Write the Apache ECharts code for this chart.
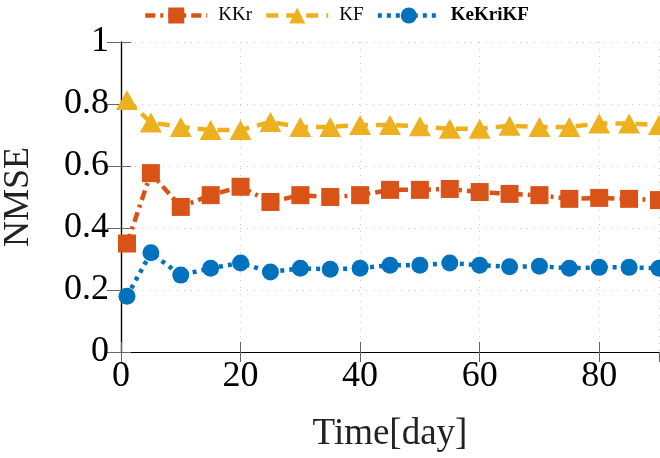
<!DOCTYPE html>
<html>
<head>
<meta charset="utf-8">
<script src="https://cdn.jsdelivr.net/npm/echarts@6/dist/echarts.min.js"></script>
<style>
	html, body { margin: 0; padding: 0; background: #fff; }
	#chart { width: 660px; height: 458px; }
</style>
</head>
<body>
<div id="chart"></div>
<script>
	/*NMSE over time*/

	var days = [1, 5, 10, 15, 20, 25, 30, 35, 40, 45, 50, 55, 60, 65, 70, 75, 80, 85, 90];
	var kkr = [0.35, 0.577, 0.468, 0.506, 0.533, 0.484, 0.506, 0.5, 0.506, 0.523, 0.523, 0.526, 0.516, 0.51, 0.506, 0.494, 0.497, 0.494, 0.49];
	var kf = [0.813, 0.74, 0.726, 0.716, 0.716, 0.742, 0.726, 0.726, 0.732, 0.732, 0.728, 0.72, 0.72, 0.73, 0.726, 0.726, 0.737, 0.737, 0.732];
	var kekrikf = [0.18, 0.32, 0.248, 0.27, 0.287, 0.258, 0.27, 0.267, 0.27, 0.28, 0.28, 0.287, 0.28, 0.275, 0.277, 0.27, 0.273, 0.273, 0.27];
	var xTicks = [0, 20, 40, 60, 80];
	var yTicks = [0, 0.2, 0.4, 0.6, 0.8, 1];

	function pairs(ys) {
		return days.map(function (d, i) { return [d, ys[i]]; });
	}

	var serif = "'Liberation Serif', 'DejaVu Serif', serif";

	var dashKKr = [10, 5, 3, 5];
	var dashKF = [12, 8];
	var dashKeKriKF = [4, 5];

	var chart = document.getElementById('chart');
	var lineChart = echarts.init(chart);

	var gridLine = { show: true, lineStyle: { color: '#c8c8c8', type: [1, 6], width: 1 } };
	var tickIn = { show: true, inside: true, length: 10, lineStyle: { color: '#666' } };

	var option = {
		animation: false,
		grid: {
			top: 42,
			right: 1,
			bottom: 106,
			left: 121,
			containLabel: false,
			outerBoundsMode: 'none'
		},
		legend: {
			top: 1,
			left: 138,
			itemWidth: 62,
			itemHeight: 20,
			itemGap: 12,
			textStyle: { fontFamily: serif, fontSize: 19, color: '#000', padding: [0, 0, 0, 6] },
			data: [
				{ name: 'KKr', lineStyle: { width: 4.5, type: dashKKr } },
				{ name: 'KF', lineStyle: { width: 4.5, type: dashKF } },
				{ name: 'KeKriKF', lineStyle: { width: 4.5, type: dashKeKriKF }, textStyle: { fontWeight: 'bold' } }
			]
		},
		xAxis: [
			{
				type: 'value',
				min: 0,
				max: 90,
				interval: 20,
				name: 'Time[day]',
				nameLocation: 'middle',
				nameGap: 64,
				nameTextStyle: { fontFamily: serif, fontSize: 37, color: '#222' },
				axisLine: { lineStyle: { color: '#000', width: 1.2 } },
				axisTick: tickIn,
				splitLine: gridLine,
				axisLabel: {
					showMaxLabel: false,
					margin: 7,
					fontFamily: serif,
					fontSize: 36,
					color: '#000',
					formatter: function (v) { return xTicks.indexOf(v) >= 0 ? String(v) : ''; }
				}
			},
			{
				type: 'value',
				position: 'top',
				min: 0,
				max: 90,
				interval: 20,
				axisLine: { show: true, lineStyle: { color: '#000', width: 1.2 } },
				axisTick: tickIn,
				axisLabel: { show: false },
				splitLine: { show: false }
			}
		],
		yAxis: [
			{
				type: 'value',
				min: 0,
				max: 1,
				interval: 0.2,
				name: 'NMSE',
				nameLocation: 'middle',
				nameGap: 84,
				nameTextStyle: { fontFamily: serif, fontSize: 36, color: '#222' },
				axisLine: { show: true, lineStyle: { color: '#000', width: 1.2 } },
				axisTick: tickIn,
				splitLine: gridLine,
				axisLabel: {
					margin: 12,
					fontFamily: serif,
					fontSize: 36,
					color: '#000',
					formatter: function (v) {
						var t = yTicks.filter(function (y) { return Math.abs(y - v) < 1e-9; });
						return t.length ? String(Math.round(v * 10) / 10) : '';
					}
				}
			},
			{
				type: 'value',
				position: 'right',
				min: 0,
				max: 1,
				interval: 0.2,
				axisLine: { show: true, lineStyle: { color: '#000', width: 1.2 } },
				axisTick: { show: true, inside: true, length: 14, lineStyle: { color: '#666' } },
				axisLabel: { show: false },
				splitLine: { show: false }
			}
		],
		series: [
			{
				name: 'KKr',
				type: 'line',
				data: pairs(kkr),
				symbol: 'rect',
				symbolSize: 18,
				lineStyle: { width: 4.5, type: dashKKr },
				itemStyle: { color: '#D95319' },
				z: 3
			},
			{
				name: 'KF',
				type: 'line',
				data: pairs(kf),
				symbol: 'triangle',
				symbolSize: [22, 20],
				lineStyle: { width: 4.5, type: dashKF },
				itemStyle: { color: '#EDB120' },
				z: 2
			},
			{
				name: 'KeKriKF',
				type: 'line',
				data: pairs(kekrikf),
				symbol: 'circle',
				symbolSize: 17,
				lineStyle: { width: 4.5, type: dashKeKriKF },
				itemStyle: { color: '#0072BD' },
				z: 4
			}
		]
	};

	lineChart.setOption(option);

	/*NMSE over time*/
</script>
</body>
</html>
